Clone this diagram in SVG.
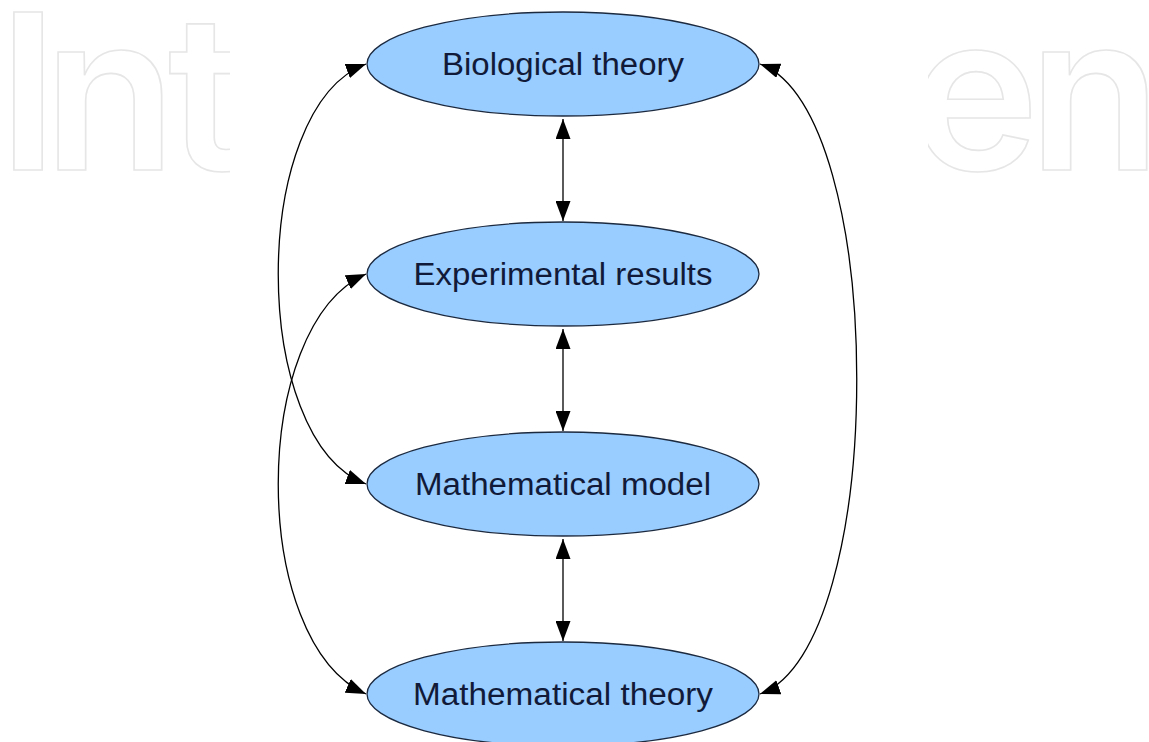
<svg xmlns="http://www.w3.org/2000/svg" width="1149" height="742" viewBox="0 0 1149 742">
  <style>
    .wm { font-family: Inter, "Liberation Sans", sans-serif; font-weight: 600; font-size: 217px; fill: none; stroke: #e6e6e6; stroke-width: 1.6; text-anchor: middle; }
    .node ellipse { fill: #99ccff; stroke: #1c2a40; stroke-width: 1.3; }
    .node text { font-family: "Liberation Sans", Arial, sans-serif; font-size: 31px; fill: #111a38; text-anchor: middle; }
    .conn path { fill: none; stroke: #000; stroke-width: 1.3; marker-start: url(#ah); marker-end: url(#ah); }
  </style>
  <defs>
    <marker id="ah" markerUnits="userSpaceOnUse" markerWidth="20" markerHeight="15" refX="20" refY="7.5" orient="auto-start-reverse" viewBox="0 0 20 15">
      <path d="M0,0 L20,7.5 L0,15 Z" fill="#000"/>
    </marker>
    <clipPath id="wmclip">
      <rect x="0" y="0" width="230" height="742"/>
      <rect x="928" y="0" width="221" height="742"/>
    </clipPath>
  </defs>
  <rect width="1149" height="742" fill="#fff"/>
  <g id="watermark" clip-path="url(#wmclip)">
    <text class="wm" x="28 110 206" y="170">Int</text>
    <text class="wm" x="975 1095" y="170">en</text>
  </g>
  <g id="connectors" class="conn">
    <path d="M563 119 L563 221"/>
    <path d="M563 329 L563 431"/>
    <path d="M563 539 L563 641"/>
    <path d="M366 64 C249 108, 249 440, 366 484"/>
    <path d="M366 274 C249 326, 249 642, 366 694"/>
    <path d="M760 64 C889 110, 889 648, 760 694"/>
  </g>
  <g id="node-biological-theory" class="node">
    <ellipse cx="563" cy="64" rx="196" ry="52"/>
    <text x="563" y="75" textLength="242" lengthAdjust="spacingAndGlyphs">Biological theory</text>
  </g>
  <g id="node-experimental-results" class="node">
    <ellipse cx="563" cy="274" rx="196" ry="52"/>
    <text x="563" y="285" textLength="299" lengthAdjust="spacingAndGlyphs">Experimental results</text>
  </g>
  <g id="node-mathematical-model" class="node">
    <ellipse cx="563" cy="484" rx="196" ry="52"/>
    <text x="563" y="495" textLength="296" lengthAdjust="spacingAndGlyphs">Mathematical model</text>
  </g>
  <g id="node-mathematical-theory" class="node">
    <ellipse cx="563" cy="694" rx="196" ry="52"/>
    <text x="563" y="705" textLength="300" lengthAdjust="spacingAndGlyphs">Mathematical theory</text>
  </g>
</svg>
